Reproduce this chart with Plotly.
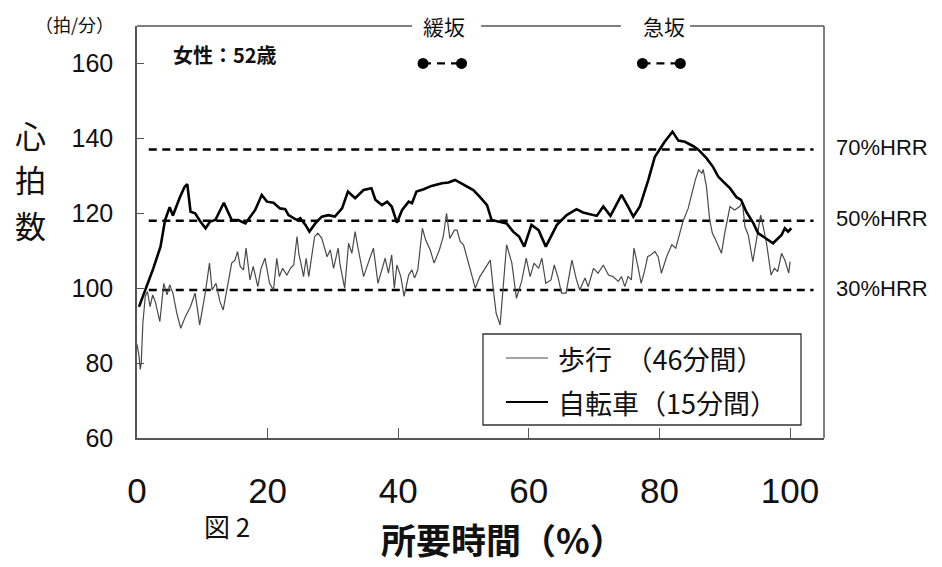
import plotly.graph_objects as go

# ---------------- data ----------------
walk_x = [0.0, 0.3, 0.5, 0.65, 0.9, 1.27, 1.6, 2.0, 2.4, 2.8, 3.5, 4.1, 4.6, 5.0, 5.5, 6.1, 6.7, 7.4, 8.2, 8.9,
          9.6, 10.45, 11.1, 11.5, 12.1, 12.7, 13.2, 13.8, 14.5, 15.0, 15.4, 15.8, 16.3, 16.7, 17.3, 17.8, 18.5,
          19.0, 19.6, 20.3, 20.9, 21.4, 21.8, 22.3, 22.95, 23.5, 24.0, 24.5, 24.8, 25.1, 25.5, 25.9, 26.3, 27.2,
          27.7, 28.3, 29.1, 29.6, 30.1, 30.8, 31.1, 31.8, 32.4, 32.9, 33.4, 33.9, 34.7, 35.4, 36.2, 36.9, 37.6,
          38.0, 38.5, 39.0, 39.4, 39.8, 40.4, 40.9, 41.6, 42.1, 42.5, 43.0, 43.7, 44.2, 44.9, 45.5, 46.3, 46.9,
          47.4, 47.9, 48.6, 49.0, 49.5, 50.0, 50.5, 51.0, 51.8, 52.5, 53.3, 54.1, 54.6, 55.0, 55.6, 56.1, 56.6,
          57.4, 58.1, 58.9, 59.6, 60.2, 60.8, 61.5, 62.0, 62.6, 63.4, 63.9, 64.5, 65.0, 65.7, 66.6, 67.3, 67.8,
          68.6, 69.1, 69.9, 70.6, 71.4, 72.2, 72.9, 73.7, 74.2, 74.7, 75.2, 75.7, 76.1, 76.7, 77.2, 77.7, 78.2,
          78.7, 79.3, 79.8, 80.3, 81.1, 81.9, 82.5, 83.1, 83.6, 84.4, 84.9, 85.5, 86.0, 86.5, 86.7, 87.2, 87.7,
          88.1, 88.5, 89.5, 90.0, 90.8, 91.5, 92.3, 92.7, 93.1, 93.6, 94.3, 94.9, 95.5, 95.9, 96.4, 97.1, 97.6,
          98.1, 98.7, 99.2, 99.8, 100.0]
walk_hr = [85.0, 82.0, 78.3, 80.0, 90.7, 97.8, 99.1, 95.1, 98.2, 96.4, 91.1, 101.3, 98.2, 100.9, 98.7, 93.3, 89.3,
           92.4, 95.1, 98.7, 90.2, 98.7, 106.7, 99.5, 101.3, 96.4, 94.2, 99.5, 106.7, 107.5, 109.8, 105.8, 104.9,
           110.7, 102.2, 105.8, 100.4, 105.3, 108.0, 101.3, 99.5, 108.0, 103.1, 105.3, 103.5, 105.3, 106.2, 113.8,
           109.0, 106.7, 103.1, 108.0, 103.1, 113.8, 114.7, 113.3, 108.4, 110.2, 105.3, 110.7, 106.2, 100.0, 112.0,
           109.3, 115.1, 110.2, 103.1, 106.7, 110.7, 101.3, 105.8, 108.0, 104.0, 108.9, 100.0, 106.2, 103.1, 97.8,
           103.5, 104.9, 102.7, 104.9, 116.0, 112.9, 110.2, 106.7, 110.2, 113.8, 120.0, 113.3, 115.5, 115.5, 112.4,
           111.6, 108.4, 105.3, 100.0, 103.1, 105.3, 107.5, 99.1, 93.3, 90.2, 101.3, 111.6, 106.7, 97.3, 101.8,
           108.0, 103.1, 106.7, 105.3, 108.0, 101.3, 102.2, 106.2, 102.7, 98.7, 98.7, 107.5, 102.2, 99.5, 102.7,
           100.4, 105.3, 104.0, 106.2, 103.5, 103.1, 101.8, 103.1, 100.4, 103.1, 102.2, 110.7, 105.8, 101.3, 104.4,
           108.4, 108.9, 109.8, 108.4, 104.0, 108.4, 111.6, 110.7, 114.7, 117.8, 121.3, 124.9, 128.9, 131.6, 130.7,
           131.7, 127.1, 118.2, 114.7, 113.3, 109.3, 114.7, 121.8, 120.9, 121.8, 123.1, 116.4, 114.2, 107.1, 113.3,
           119.5, 116.4, 112.0, 103.5, 105.3, 104.4, 109.3, 107.5, 104.0, 107.1]

bike_x = [0.3, 1.3, 2.5, 3.6, 4.3, 5.0, 5.5, 6.6, 7.3, 7.7, 8.2, 8.9, 9.7, 10.5, 11.2, 12.0, 13.3, 14.5, 15.5,
          16.6, 18.1, 19.1, 19.9, 20.9, 21.9, 22.7, 23.2, 24.5, 25.0, 25.8, 26.4, 27.3, 28.3, 29.3, 30.3, 31.4,
          32.3, 33.4, 34.7, 35.9, 36.5, 37.5, 38.3, 39.0, 39.8, 40.6, 41.6, 42.1, 42.8, 43.9, 45.1, 46.7, 47.7,
          48.7, 49.7, 50.5, 51.5, 52.5, 53.6, 54.3, 55.6, 56.6, 57.6, 58.5, 59.3, 60.4, 61.5, 62.6, 64.3, 65.8,
          67.3, 68.3, 70.4, 71.4, 72.5, 74.2, 75.2, 76.0, 77.0, 78.3, 79.3, 80.8, 82.0, 82.9, 83.9, 85.2, 86.0,
          87.2, 88.2, 89.0, 89.8, 90.8, 91.8, 92.5, 93.3, 94.4, 95.1, 96.4, 97.4, 98.7, 99.2, 99.7, 100.2]
bike_hr = [95.0, 99.6, 105.3, 111.1, 118.2, 121.6, 119.4, 124.4, 127.1, 127.8, 120.4, 120.0, 117.8, 116.0, 117.8,
           118.2, 122.8, 118.2, 118.2, 117.3, 120.9, 124.9, 123.1, 122.8, 121.3, 121.1, 119.5, 118.2, 118.7, 116.9,
           115.1, 117.3, 119.1, 119.5, 119.1, 121.3, 125.8, 124.0, 126.2, 126.7, 123.6, 122.2, 123.1, 121.8, 117.5,
           120.9, 123.1, 122.7, 125.8, 126.4, 127.3, 128.0, 128.2, 128.9, 128.0, 127.1, 126.2, 124.4, 122.2, 118.2,
           117.8, 117.3, 115.1, 113.8, 111.1, 116.9, 115.5, 111.1, 116.9, 119.5, 121.1, 120.2, 119.3, 121.8, 119.3,
           124.9, 121.8, 119.1, 121.8, 128.9, 135.1, 139.1, 141.8, 139.4, 139.1, 137.9, 136.9, 134.7, 132.4, 129.8,
           128.4, 126.7, 124.3, 123.6, 120.4, 117.3, 114.7, 113.3, 112.0, 114.2, 116.0, 115.1, 116.0]

hrr_labels = ["70%HRR", "50%HRR", "30%HRR"]
hrr_values = [137.0, 118.0, 99.5]

slope_names = ["緩坂", "急坂"]
slope_start = [43.8, 77.4]
slope_end = [49.7, 83.2]
slope_level = 160

x_ticks = [0, 20, 40, 60, 80, 100]
y_ticks = [60, 80, 100, 120, 140, 160]

legend_labels = ["歩行　（46分間）", "自転車（15分間）"]
y_title_chars = ["心", "拍", "数"]

# ---------------- figure ----------------
JP = "Noto Sans CJK JP"
NUM = "Liberation Sans, Arial, sans-serif"
FRAME = "#555555"

# page body has an 8px margin: figure is drawn 8px in from the top-left
OFF = 8
W, H = 942 - OFF, 567 - OFF
L, R, T, B = 137 - OFF, 118, 26 - OFF, 129
PW, PH = W - L - R, H - T - B


def px(xp):  # page pixel x -> paper
    return (xp - OFF - L) / PW


def py(yp):  # page pixel y -> paper
    return (H - B - (yp - OFF)) / PH


fig = go.Figure()

# HRR reference lines
for v in hrr_values:
    fig.add_trace(go.Scatter(x=[1.8, 103.6], y=[v, v], mode="lines",
                             line=dict(color="black", width=2.5, dash="8px,5.5px"),
                             hoverinfo="skip", showlegend=False))

# walking and cycling heart rates
fig.add_trace(go.Scatter(x=walk_x, y=walk_hr, mode="lines", name=legend_labels[0],
                         line=dict(color="#4a4a4a", width=1.2), showlegend=False))
fig.add_trace(go.Scatter(x=bike_x, y=bike_hr, mode="lines", name=legend_labels[1],
                         line=dict(color="black", width=2.6), showlegend=False))

# slope markers
for s, e in zip(slope_start, slope_end):
    fig.add_trace(go.Scatter(x=[s, e], y=[slope_level, slope_level], mode="lines+markers",
                             line=dict(color="black", width=2.2, dash="8px,6px"),
                             marker=dict(color="black", size=11),
                             hoverinfo="skip", showlegend=False))

shapes = []
# right frame
shapes.append(dict(type="line", xref="paper", yref="paper", x0=1, x1=1, y0=0, y1=1,
                   line=dict(color=FRAME, width=1.5)))
# top frame with gaps for slope labels
top_segments = [(0, 42.1), (52.7, 74.1), (84.7, 105.2)]
for a, b in top_segments:
    shapes.append(dict(type="line", xref="x", yref="paper", x0=a, x1=b, y0=1, y1=1,
                       line=dict(color=FRAME, width=1.5)))

# legend box
shapes.append(dict(type="rect", xref="paper", yref="paper", x0=px(483), x1=px(801), y0=py(425), y1=py(334),
                   line=dict(color="#333333", width=1.3), fillcolor="white"))
leg_y = [py(358), py(402)]
leg_w = [1.2, 2.0]
leg_c = ["#4a4a4a", "black"]
for yy, w, c in zip(leg_y, leg_w, leg_c):
    shapes.append(dict(type="line", xref="paper", yref="paper", x0=px(506), x1=px(548), y0=yy, y1=yy,
                       line=dict(color=c, width=w)))

annotations = []
for lab, yy in zip(legend_labels, leg_y):
    annotations.append(dict(xref="paper", yref="paper", x=px(556), y=yy, text=lab, showarrow=False,
                            xanchor="left", yanchor="middle",
                            font=dict(family=JP, size=27, color="#111111")))

for lab, v in zip(hrr_labels, hrr_values):
    annotations.append(dict(xref="paper", yref="y", x=px(834), y=v + 0.5, text=lab, showarrow=False,
                            xanchor="left", yanchor="middle",
                            font=dict(family=NUM, size=22, color="#111111")))

for name, s, e in zip(slope_names, slope_start, slope_end):
    annotations.append(dict(xref="x", yref="paper", x=(s + e) / 2 + (0.2 if name == "緩坂" else 0.4),
                            y=1.0, text=name, showarrow=False, xanchor="center", yanchor="middle",
                            font=dict(family=JP, size=21, color="#111111")))

for i, ch in enumerate(y_title_chars):
    annotations.append(dict(xref="paper", yref="paper", x=px(30), y=py(134 + 45 * i), text=ch,
                            showarrow=False, xanchor="center", yanchor="middle",
                            font=dict(family=JP, size=31, color="#111111")))

annotations += [
    dict(xref="paper", yref="paper", x=px(74), y=py(24), text="（拍/分）",
         showarrow=False, xanchor="center", yanchor="middle",
         font=dict(family=JP, size=18, color="#111111")),
    dict(xref="paper", yref="paper", x=px(171), y=py(55), text="<b>女性：52歳</b>",
         showarrow=False, xanchor="left", yanchor="middle",
         font=dict(family=JP, size=20, color="#111111")),
    dict(xref="paper", yref="paper", x=px(503), y=py(566),
         text="<b>所要時間（%）</b>", showarrow=False, xanchor="center", yanchor="bottom",
         font=dict(family=JP, size=35, color="#111111")),
    dict(xref="paper", yref="paper", x=px(227), y=py(525),
         text="図 2", showarrow=False, xanchor="center", yanchor="middle",
         font=dict(family=JP, size=26, color="#111111")),
]

fig.update_layout(
    width=W, height=H,
    margin=dict(l=L, r=R, t=T, b=B, autoexpand=False),
    paper_bgcolor="white", plot_bgcolor="white",
    shapes=shapes, annotations=annotations,
    showlegend=False,
    xaxis=dict(range=[0, 105.2], tickvals=x_ticks, ticks="inside", ticklen=10, tickwidth=1.2,
               tickcolor=FRAME, showline=True, linecolor=FRAME, linewidth=1.5, showgrid=False,
               zeroline=False, tickfont=dict(family=NUM, size=35, color="#111111"),
               ticklabelstandoff=21, automargin=False),
    yaxis=dict(range=[60, 170], tickvals=y_ticks, ticks="inside", ticklen=7, tickwidth=1.2,
               tickcolor=FRAME, showline=True, linecolor=FRAME, linewidth=1.5, showgrid=False,
               zeroline=False, tickfont=dict(family=NUM, size=25, color="#111111"),
               ticklabelstandoff=17, automargin=False),
)

fig.write_html("out.html")
